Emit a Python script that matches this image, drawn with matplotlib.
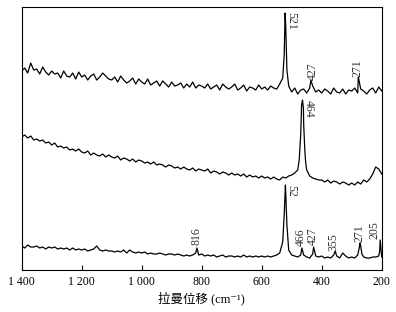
import matplotlib
matplotlib.use("Agg")
import matplotlib.pyplot as plt

plt.rcParams['font.family'] = ['Liberation Serif', 'DejaVu Serif', 'Noto Sans CJK SC']

# grille commune (cm-1), de 1400 a 200 tous les 10
wn = list(range(1400, 195, -10))

# spectre du haut (intensite relative)
haut = [199, 202, 197, 207, 200, 201, 196, 203, 198, 195,
        199, 196, 197, 192, 199, 194, 193, 197, 191, 198,
        193, 195, 190, 194, 196, 190, 193, 197, 194, 191,
        190, 193, 188, 194, 190, 187, 189, 192, 186, 191,
        188, 186, 191, 185, 187, 189, 184, 189, 186, 183,
        188, 184, 185, 187, 182, 186, 183, 188, 182, 185,
        184, 182, 186, 181, 183, 185, 180, 186, 183, 181,
        183, 186, 180, 182, 185, 179, 183, 182, 180, 185,
        181, 183, 180, 184, 182, 181, 186, 192, 245, 184,
        178, 182, 176, 180, 181, 177, 182, 184, 178, 180,
        177, 181, 179, 176, 182, 178, 177, 181, 176, 180,
        179, 182, 177, 181, 179, 176, 180, 182, 177, 183, 179]
haut_pic_x = [525, 522, 516, 436, 278]
haut_pic_y = [215, 257, 200, 190, 193]

# spectre du milieu
milieu = [133, 135, 132, 134, 130, 131, 129, 130, 127, 128,
          125, 127, 123, 124, 122, 123, 120, 121, 119, 121,
          118, 117, 119, 115, 117, 115, 114, 116, 113, 115,
          113, 112, 114, 110, 112, 111, 109, 111, 108, 110,
          109, 107, 108, 106, 108, 105, 106, 105, 103, 105,
          104, 102, 103, 101, 103, 101, 100, 102, 99, 101,
          100, 99, 101, 97, 99, 98, 96, 98, 97, 95,
          97, 95, 96, 94, 96, 93, 95, 93, 94, 92,
          94, 92, 93, 91, 93, 91, 90, 93, 92, 94,
          95, 97, 100, 135, 145, 100, 94, 92, 91, 90,
          90, 88, 90, 87, 89, 88, 86, 88, 87, 85,
          87, 85, 88, 86, 90, 88, 91, 96, 103, 101, 96]
milieu_pic_x = [475, 467, 464, 461, 456, 453]
milieu_pic_y = [110, 165, 170, 162, 118, 106]

# spectre du bas
bas = [24, 22, 25, 23, 23, 24, 22, 23, 21, 23,
       22, 23, 21, 22, 21, 22, 20, 22, 20, 21,
       20, 21, 19, 20, 21, 24, 20, 19, 20, 19,
       19, 18, 19, 18, 20, 17, 20, 18, 17, 18,
       17, 18, 16, 17, 16, 16, 17, 16, 15, 16,
       16, 15, 16, 15, 14, 15, 14, 15, 17, 15,
       16, 14, 15, 14, 15, 13, 14, 15, 13, 14,
       14, 13, 14, 13, 15, 13, 14, 13, 14, 13,
       14, 13, 14, 13, 14, 15, 17, 28, 78, 20,
       15, 14, 13, 15, 15, 13, 12, 16, 14, 13,
       14, 12, 13, 12, 15, 14, 12, 17, 14, 12,
       13, 12, 15, 24, 13, 12, 12, 13, 13, 14, 13]
bas_pic_x = [525, 521, 516, 816, 466, 427, 355, 275, 272, 266, 207, 205, 202]
bas_pic_y = [55, 85, 45, 22, 22, 23, 19, 22, 27, 16, 18, 30, 20]

# etiquettes des pics : texte, x, y, rotation
etiquettes = [("521", 502, 258, -90), ("427", 429, 190, 90), ("271", 282, 193, 90),
              ("464", 442, 170, -90),
              ("52", 502, 85, -90), ("816", 819, 25, 90), ("466", 469, 24, 90),
              ("427", 429, 25, 90), ("355", 362, 19, 90), ("271", 275, 28, 90),
              ("205", 224, 31, 90)]

ticks = [1400, 1200, 1000, 800, 600, 400, 200]
tick_labels = ["1 400", "1 200", "1 000", "800", "600", "400", "200"]


def fusion(base, px, py):
    """Ajoute les points des pics a la grille et trie."""
    pts = list(zip(wn, base)) + list(zip(px, py))
    pts.sort(key=lambda p: -p[0])
    return [p[0] for p in pts], [p[1] for p in pts]


fig = plt.figure(figsize=(3.96, 3.12), dpi=100)
ax = fig.add_axes([0.0548, 0.1346, 0.9091, 0.8429])

for base, px, py in [(haut, haut_pic_x, haut_pic_y),
                     (milieu, milieu_pic_x, milieu_pic_y),
                     (bas, bas_pic_x, bas_pic_y)]:
    x, y = fusion(base, px, py)
    ax.plot(x, y, color='black', lw=0.9)

for txt, x, y, rot in etiquettes:
    va = 'top' if rot < 0 else 'bottom'
    ax.text(x, y, txt, rotation=rot, ha='center', va=va, fontsize=8.5, color='#333333')

ax.set_xlim(1400, 200)
ax.set_ylim(0, 263)
ax.set_yticks([])
ax.set_xticks(ticks)
ax.set_xticklabels(tick_labels)
ax.tick_params(axis='x', direction='in', length=3.5, width=0.8, labelsize=8.5, pad=4)
for s in ax.spines.values():
    s.set_linewidth(0.8)
ax.set_xlabel("拉曼位移 (cm\u207b\u00b9)", fontsize=9, labelpad=3)

fig.savefig("out.png", dpi=100)
